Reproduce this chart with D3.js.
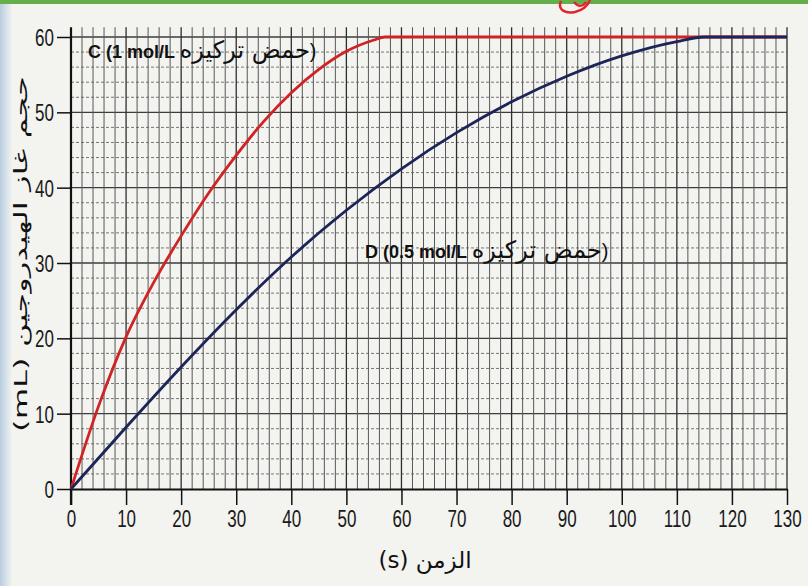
<!DOCTYPE html>
<html>
<head>
<meta charset="utf-8">
<script src="https://cdn.jsdelivr.net/npm/d3@7"></script>
<style>
  html, body { margin: 0; padding: 0; background: #f3f3f0; }
  svg { display: block; }
</style>
</head>
<body>
<div id="chart"></div>
<script>
"use strict";

// data
var xTicks = [0, 10, 20, 30, 40, 50, 60, 70, 80, 90, 100, 110, 120, 130];
var yTicks = [0, 10, 20, 30, 40, 50, 60];

var cTime = [0, 5, 10, 15, 20, 25, 30, 35, 40, 45, 50, 55, 57, 130];
var cVolume = [0, 11, 20.2, 27.4, 33.6, 39.3, 44.3, 48.8, 52.6, 55.7, 58.1, 59.6, 60, 60];

var dTime = [0, 10, 20, 30, 40, 50, 60, 70, 80, 90, 100, 110, 115, 130];
var dVolume = [0, 8.2, 16.2, 23.8, 30.8, 37, 42.5, 47.3, 51.4, 54.8, 57.5, 59.4, 60, 60];

var cLabel = ["C (1 mol/L ", "حمض تركيزه", ")"];
var dLabel = ["D (0.5 mol/L ", "حمض تركيزه", ")"];
var xTitle = "الزمن (s)";
var yTitle = "حجم غاز الهيدروجين (mL)";

// set params
var width = 808;
var height = 586;
var cColor = "#d02324";
var dColor = "#1d2558";
var numFont = "'Liberation Sans', Arial, sans-serif";

var svg = d3.select("#chart")
  .append("svg")
  .attr("width", width)
  .attr("height", height);

// paper + photo artefacts
svg.append("rect").attr("width", width).attr("height", height).attr("fill", "#f3f3f0");
var defs = svg.append("defs");
var edge = defs.append("linearGradient").attr("id", "edge");
edge.append("stop").attr("offset", "0").attr("stop-color", "#a9c3dc").attr("stop-opacity", 0.8);
edge.append("stop").attr("offset", "1").attr("stop-color", "#a9c3dc").attr("stop-opacity", 0);
svg.append("rect").attr("width", 12).attr("height", height).attr("fill", "url(#edge)");
svg.append("rect").attr("width", width).attr("height", 4).attr("fill", "#66ae4b");
svg.append("path")
  .attr("d", "M561,1 C557,10 566,14 575,12 C583,10 588,5 590,0 M574,2 C578,7 583,7 586,2")
  .attr("fill", "none").attr("stroke", "#e0262a").attr("stroke-width", 2.4);

var x = d3.scaleLinear().domain([0, 130]).range([71, 787]);
var y = d3.scaleLinear().domain([0, 60]).range([489, 37]);
var gridTop = y(61.3);

// grid paper
var grid = svg.append("g").attr("class", "grid");
grid.selectAll("line.h")
  .data(d3.range(2, 61, 2))
  .enter()
  .append("line")
    .attr("class", "h")
    .attr("x1", x(0)).attr("x2", x(130))
    .attr("y1", function(v) { return y(v); })
    .attr("y2", function(v) { return y(v); })
    .attr("stroke", function(v) { return v % 10 === 0 ? "#3c3c3c" : "#767676"; })
    .attr("stroke-width", function(v) { return v % 10 === 0 ? 1.4 : 1; })
    .attr("stroke-dasharray", function(v) { return v % 10 === 0 ? null : "3 2"; });

grid.selectAll("line.v")
  .data(d3.range(2, 131, 2))
  .enter()
  .append("line")
    .attr("class", "v")
    .attr("y1", y(0)).attr("y2", gridTop)
    .attr("x1", function(t) { return x(t); })
    .attr("x2", function(t) { return x(t); })
    .attr("stroke", function(t) { return t % 10 === 0 ? "#2e2e2e" : "#575757"; })
    .attr("stroke-width", function(t) { return t % 10 === 0 ? 1.3 : 1; });

// axes
var xAxis = svg.append("g")
  .attr("transform", "translate(0," + y(0) + ")")
  .call(d3.axisBottom(x).tickValues(xTicks).tickSize(16).tickSizeOuter(0).tickFormat(d3.format("d")));
xAxis.select(".domain").attr("stroke", "#111").attr("stroke-width", 2.2);
xAxis.selectAll(".tick line").attr("stroke", "#111").attr("stroke-width", 1.5);
xAxis.selectAll(".tick text")
  .attr("y", 0).attr("dy", null)
  .attr("fill", "#1a1a1a")
  .style("font-family", numFont)
  .style("font-size", "17px")
  .attr("transform", "translate(0,38) scale(1,1.45)");

var yAxis = svg.append("g")
  .attr("transform", "translate(" + x(0) + ",0)")
  .call(d3.axisLeft(y).tickValues(yTicks).tickSize(14).tickPadding(3).tickSizeOuter(0));
yAxis.select(".domain").remove();
yAxis.selectAll(".tick line").attr("stroke", "#111").attr("stroke-width", 1.5);
yAxis.selectAll(".tick text")
  .attr("dy", null).attr("y", 0)
  .attr("fill", "#1a1a1a")
  .style("font-family", numFont)
  .style("font-size", "17px")
  .attr("transform", "translate(0,8.5) scale(1,1.45)");
svg.append("line")
  .attr("x1", x(0)).attr("x2", x(0))
  .attr("y1", gridTop).attr("y2", y(0) + 16)
  .attr("stroke", "#111").attr("stroke-width", 2.2);

// curves
var line = d3.line()
  .x(function(d) { return x(d[0]); })
  .y(function(d) { return y(d[1]); })
  .curve(d3.curveMonotoneX);

svg.append("path")
  .datum(d3.zip(cTime, cVolume))
  .attr("d", line)
  .attr("fill", "none")
  .attr("stroke", cColor)
  .attr("stroke-width", 2.8);

svg.append("path")
  .datum(d3.zip(dTime, dVolume))
  .attr("d", line)
  .attr("fill", "none")
  .attr("stroke", dColor)
  .attr("stroke-width", 2.8);

// curve labels: bold latin part, plain arabic part
function addLabel(parts, left, base) {
  var t = svg.append("text")
    .attr("x", left).attr("y", base)
    .attr("fill", "#111");
  t.append("tspan")
    .style("font-family", "'Liberation Sans', Arial, sans-serif")
    .style("font-size", "18px")
    .style("font-weight", "bold")
    .text(parts[0]);
  t.append("tspan")
    .style("font-family", "'DejaVu Sans', sans-serif")
    .style("font-size", "24px")
    .text(parts[1]);
  t.append("tspan")
    .style("font-family", "'Liberation Sans', Arial, sans-serif")
    .style("font-size", "20px")
    .text(parts[2]);
}
addLabel(cLabel, 88, 58);
addLabel(dLabel, 365, 258);

// axis titles
svg.append("text")
  .attr("x", 425).attr("y", 568)
  .attr("text-anchor", "middle")
  .attr("direction", "rtl")
  .attr("fill", "#111")
  .style("font-family", "'DejaVu Sans', sans-serif")
  .style("font-size", "23px")
  .text(xTitle);

svg.append("text")
  .attr("transform", "translate(27,254) rotate(-90)")
  .attr("text-anchor", "middle")
  .attr("direction", "rtl")
  .attr("textLength", 356)
  .attr("lengthAdjust", "spacingAndGlyphs")
  .attr("fill", "#111")
  .style("font-family", "'DejaVu Sans', sans-serif")
  .style("font-size", "18px")
  .text(yTitle);
</script>
</body>
</html>
